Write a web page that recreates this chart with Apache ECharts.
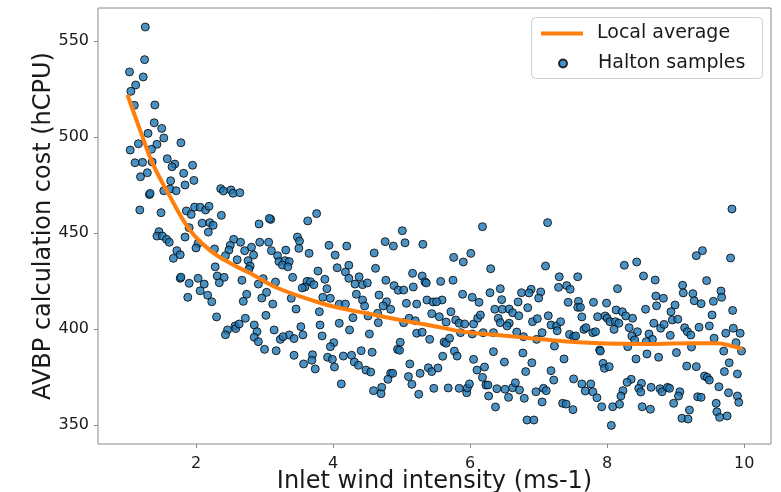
<!DOCTYPE html>
<html>
<head>
<meta charset="utf-8">
<script src="https://cdn.jsdelivr.net/npm/echarts@6/dist/echarts.min.js"></script>
<style>html,body{margin:0;padding:0;background:#fff}#c{width:781px;height:492px}</style>
</head>
<body>
<div id="c"></div>
<script>
const xTicks = [2, 4, 6, 8, 10];
const yTicks = [350, 400, 450, 500, 550];

const avgX = [1.0, 1.2, 1.37, 1.62, 1.91, 2.2, 2.5, 2.79, 3.18, 3.76, 4.05, 4.54, 5.03, 5.46, 5.9, 6.39, 6.88, 7.36, 7.8, 8.24, 8.73, 9.21, 9.6, 9.8, 9.97];
const avgY = [522.0, 502.0, 486.0, 469.0, 451.6, 441.1, 434.2, 429.0, 421.5, 414.2, 411.3, 407.8, 404.3, 401.6, 398.6, 396.9, 395.2, 393.6, 392.7, 392.3, 392.2, 392.6, 392.6, 391.3, 389.6];

const sampleX = [
1.26,1.25,1.03,1.23,1.12,1.05,1.10,1.40,1.39,1.50,1.30,1.53,1.16,1.43,1.78,1.35,1.04,1.58,1.11,1.22,1.36,1.69,1.95,1.65,1.29,1.19,1.82,1.63,1.97,1.84,
1.32,1.33,1.53,1.62,1.71,2.36,2.40,2.51,2.54,2.64,1.18,1.49,1.86,1.93,1.98,2.06,2.14,2.19,2.37,2.92,3.09,3.07,2.09,2.20,2.25,1.90,2.18,1.46,1.43,1.51,
1.57,1.61,1.84,2.03,2.00,1.72,1.77,1.67,2.27,2.55,2.50,2.65,2.48,2.43,2.71,2.81,2.93,3.06,3.10,2.84,2.60,2.76,2.79,2.77,3.19,3.21,2.28,1.77,1.78,1.90,
2.03,2.12,2.31,2.41,2.34,2.67,2.98,2.91,3.16,2.06,2.17,1.88,2.23,2.74,2.69,3.03,2.96,3.12,2.30,2.72,3.02,2.46,2.43,2.57,2.58,2.63,2.85,2.89,3.14,2.85,
2.91,3.00,3.17,3.23,3.63,3.76,3.48,3.51,3.50,3.31,3.65,3.30,3.36,3.26,3.34,3.94,4.20,4.03,4.23,4.06,4.18,3.78,3.41,3.88,4.23,4.38,3.62,3.67,3.72,3.59,
3.55,4.32,4.43,4.50,3.91,4.34,3.85,3.96,3.39,4.43,4.67,4.09,4.18,4.78,4.60,4.62,4.76,4.88,5.01,5.05,5.31,4.77,4.89,4.95,5.03,5.16,5.17,5.30,5.34,5.36,
5.37,5.07,5.22,5.46,3.46,3.80,4.29,4.09,4.46,4.73,4.84,4.51,4.65,4.66,5.44,5.11,5.20,5.03,3.53,3.81,3.56,3.36,3.27,3.43,3.84,4.24,4.53,5.22,5.30,5.41,
4.98,4.94,4.97,4.01,3.96,3.43,3.70,3.69,3.57,3.74,3.92,3.99,4.02,4.15,4.27,4.31,4.37,4.41,4.57,4.48,4.55,4.12,4.84,4.87,4.80,4.71,4.59,4.70,5.12,5.10,
5.15,5.27,5.39,5.44,5.25,5.47,6.18,7.13,5.76,5.90,6.01,6.30,7.10,7.30,7.57,5.57,5.75,7.29,7.41,7.46,5.89,6.03,6.29,6.44,6.46,6.13,6.75,6.89,6.86,7.03,
7.00,6.70,5.59,5.51,7.43,7.58,7.80,6.36,6.47,6.57,6.62,6.71,6.84,7.57,7.61,5.72,5.55,5.65,5.79,5.84,5.92,6.05,6.11,6.15,6.41,6.44,6.57,6.54,6.91,6.98,
7.14,7.18,7.26,7.32,7.27,7.63,7.66,7.69,7.79,5.86,6.03,6.19,6.34,6.68,6.78,6.97,7.05,7.45,7.51,7.54,5.62,5.65,5.70,7.23,5.77,5.81,5.60,6.34,6.77,6.05,
6.50,6.90,7.37,5.53,6.10,6.21,6.18,6.81,7.18,7.22,7.51,7.63,7.76,7.68,7.79,5.68,5.84,5.95,5.96,5.99,6.23,6.26,6.39,6.51,6.62,6.66,6.72,6.56,6.27,6.79,
6.96,7.07,7.11,7.05,6.37,7.35,7.40,7.50,6.83,6.93,9.82,9.30,9.39,9.80,8.25,8.43,8.53,8.70,8.15,9.45,9.10,9.11,9.25,9.66,9.67,8.71,8.82,9.27,9.37,9.55,
7.99,8.72,8.99,8.56,8.93,9.83,9.53,7.86,7.97,8.00,8.13,8.22,8.27,8.37,8.04,8.12,8.17,8.10,8.32,8.44,8.36,8.40,8.68,8.78,8.83,8.95,9.03,8.92,8.61,8.66,
8.57,9.13,9.17,9.22,9.34,9.49,9.56,9.73,9.84,9.94,9.88,9.23,7.83,7.89,7.90,8.30,8.58,8.42,8.75,9.01,9.70,9.96,7.94,7.96,8.03,9.16,9.30,9.78,9.71,9.90,
9.42,9.46,9.49,9.63,8.35,8.29,8.50,8.46,8.49,8.64,8.23,8.20,8.77,8.80,8.88,8.91,9.06,9.04,9.32,9.37,9.77,9.90,9.92,7.85,7.92,8.08,8.18,8.51,8.63,8.97,
9.20,9.59,9.60,9.64,9.75,9.09,9.18,8.06
];
const sampleY = [
557.3,540.3,533.9,531.3,527.1,523.8,516.5,516.7,507.4,504.5,501.9,499.5,496.5,496.2,497.0,493.6,493.2,488.7,486.6,486.8,487.0,485.9,485.3,484.5,481.4,479.3,481.1,477.2,477.4,475.0,
470.0,470.6,472.0,472.9,472.0,473.1,471.9,472.4,470.7,471.0,462.0,460.6,461.5,459.7,463.5,463.4,462.0,463.9,459.2,454.7,457.1,457.6,455.1,455.4,454.0,452.8,450.5,450.7,448.4,448.4,
446.7,445.2,447.9,444.6,442.2,440.8,438.7,436.8,441.7,446.7,443.6,445.2,441.1,438.2,440.8,442.6,445.2,445.2,440.8,438.5,436.1,435.6,432.8,431.1,438.2,435.1,432.4,426.4,427.0,423.8,
426.4,423.4,427.6,426.9,424.1,425.4,426.2,423.4,424.5,419.9,417.6,416.5,414.2,418.1,414.4,419.1,416.1,413.0,406.3,405.6,407.1,399.5,397.0,401.6,400.2,402.6,402.1,398.6,399.5,395.7,
393.4,389.4,388.7,394.6,456.3,460.1,447.9,445.8,442.0,441.1,439.4,435.6,435.1,433.3,432.4,443.6,443.2,438.5,433.2,431.9,429.7,430.2,426.9,425.9,426.4,427.2,424.8,424.6,423.1,421.9,
421.4,423.4,423.1,424.0,421.0,418.1,416.5,416.0,416.0,415.1,417.7,412.9,413.0,414.2,439.6,431.6,445.5,443.2,451.2,444.9,444.1,425.4,422.6,420.2,420.3,429.0,421.9,427.6,424.6,424.0,
415.1,413.4,413.0,414.1,410.4,409.0,405.9,403.0,412.0,412.0,410.3,406.8,408.2,403.3,408.0,405.6,404.3,403.3,401.2,402.1,396.9,396.9,396.0,395.0,396.4,399.5,397.4,397.8,398.3,394.6,
393.1,389.4,388.9,392.9,390.8,386.3,386.6,383.7,381.8,379.2,385.3,384.2,380.2,385.9,386.3,382.8,381.1,388.7,387.9,378.6,377.6,371.4,376.9,376.9,373.8,369.6,367.9,366.3,381.8,375.2,
371.2,376.9,379.8,377.8,366.0,369.1,453.3,455.4,437.3,434.9,439.4,431.4,432.8,427.2,427.2,424.8,425.4,421.7,422.6,420.7,418.1,416.5,418.9,421.0,415.3,413.9,418.9,420.7,418.8,419.3,
416.1,414.1,415.1,414.2,413.9,414.4,413.9,410.3,410.3,410.4,408.5,406.9,411.1,411.3,411.3,409.0,406.4,403.6,404.7,403.0,402.6,402.6,405.6,407.3,405.6,403.3,403.0,401.6,403.8,405.4,
406.9,402.1,401.6,403.8,399.1,406.3,399.8,400.7,398.1,398.1,397.4,398.1,398.1,398.4,396.0,394.6,398.1,397.2,396.0,396.4,393.2,392.6,395.2,391.1,388.5,385.9,385.8,388.2,387.5,384.2,
382.8,382.4,384.4,379.7,378.6,380.2,374.8,377.8,378.3,373.4,374.0,371.4,371.4,367.7,367.3,369.3,369.1,366.8,369.3,371.4,370.8,370.8,368.9,368.6,369.4,372.0,368.2,364.4,365.1,363.9,
367.3,369.1,367.9,362.0,359.4,361.3,360.9,358.0,352.6,352.6,462.5,438.2,440.8,437.0,433.2,434.9,427.6,425.5,421.0,425.2,422.8,418.8,418.4,419.8,416.5,417.2,416.0,414.7,413.2,414.4,
413.5,412.1,412.5,410.3,409.0,409.7,407.3,406.4,406.8,405.6,409.9,409.0,406.8,405.6,403.8,403.8,403.0,399.8,400.7,398.6,396.4,394.3,403.0,400.4,402.4,404.7,405.1,396.7,397.4,394.6,
393.4,400.7,398.6,396.9,400.9,401.6,395.2,397.8,400.4,397.8,392.9,390.6,398.6,389.1,388.5,390.8,387.0,384.4,385.3,387.7,388.5,388.5,382.1,379.5,380.4,380.7,380.4,382.4,377.8,376.6,
375.5,374.8,373.4,369.9,373.8,372.2,371.7,369.1,367.2,369.6,367.9,365.1,368.9,367.3,369.6,369.1,367.3,365.1,364.7,364.4,366.8,365.1,361.8,364.2,359.5,359.5,360.8,359.5,358.2,361.3,
357.8,361.3,356.9,354.0,354.7,353.5,353.1,349.8
];

const samples = sampleX.map((x, i) => [x, sampleY[i]]);
const avg = avgX.map((x, i) => [x, avgY[i]]);

const FONT = 'DejaVu Sans';
const TXT = '#1a1a1a';
const EDGE = '#8a8a8a';

const chart = echarts.init(document.getElementById('c'), null, {renderer: 'canvas'});
chart.setOption({
  animation: false,
  backgroundColor: '#fff',
  textStyle: {fontFamily: FONT},
  grid: {left: 98, right: 10, top: 8, bottom: 48, show: true, borderColor: EDGE, borderWidth: 1,
         backgroundColor: 'transparent', containLabel: false, outerBoundsMode: 'none'},
  xAxis: {
    type: 'value', min: 0.57, max: 10.39,
    name: 'Inlet wind intensity (ms-1)', nameLocation: 'middle', nameGap: 26, nameMoveOverlap: false,
    nameTextStyle: {fontFamily: FONT, fontSize: 24, color: TXT},
    axisLine: {show: false},
    axisTick: {show: true, length: 4, inside: false, lineStyle: {color: EDGE}, customValues: xTicks},
    axisLabel: {fontFamily: FONT, fontSize: 16, color: TXT, margin: 12, customValues: xTicks},
    splitLine: {show: false}
  },
  yAxis: {
    type: 'value', min: 340.1, max: 567.2,
    name: 'AVBP calculation cost (hCPU)', nameLocation: 'middle', nameGap: 42, nameMoveOverlap: false,
    nameTextStyle: {fontFamily: FONT, fontSize: 24, color: TXT},
    axisLine: {show: false},
    axisTick: {show: true, length: 4, inside: false, lineStyle: {color: EDGE}, customValues: yTicks},
    axisLabel: {fontFamily: FONT, fontSize: 16, color: TXT, margin: 9, customValues: yTicks},
    splitLine: {show: false}
  },
  graphic: [{
    type: 'rect', left: 531, top: 17, z: 50,
    shape: {width: 231, height: 61, r: 4},
    style: {fill: 'rgba(255,255,255,0.8)', stroke: '#d0d0d0', lineWidth: 1}
  }],
  legend: [
    {data: [{name: 'Local average', icon: 'rect'}], orient: 'vertical', left: 541, top: 24, padding: 0, z: 60,
     itemWidth: 42, itemHeight: 4,
     textStyle: {fontFamily: FONT, fontSize: 19, color: TXT, padding: [0, 0, 0, 9]}},
    {data: [{name: 'Halton samples', icon: 'circle'}], orient: 'vertical', left: 558, top: 54, padding: 0, z: 60,
     itemWidth: 8, itemHeight: 8,
     textStyle: {fontFamily: FONT, fontSize: 19, color: TXT, padding: [0, 0, 0, 26]}}
  ],
  series: [
    {
      name: 'Halton samples', type: 'scatter', data: samples, z: 2,
      symbol: 'circle', symbolSize: 8,
      itemStyle: {color: '#1f77b4', borderColor: '#000', borderWidth: 1, opacity: 0.8},
      emphasis: {disabled: true}
    },
    {
      name: 'Local average', type: 'line', data: avg, z: 3,
      smooth: 0.4, symbol: 'none', showSymbol: false,
      lineStyle: {color: '#ff7f0e', width: 4},
      itemStyle: {color: '#ff7f0e'},
      emphasis: {disabled: true}
    }
  ]
});
</script>
</body>
</html>
